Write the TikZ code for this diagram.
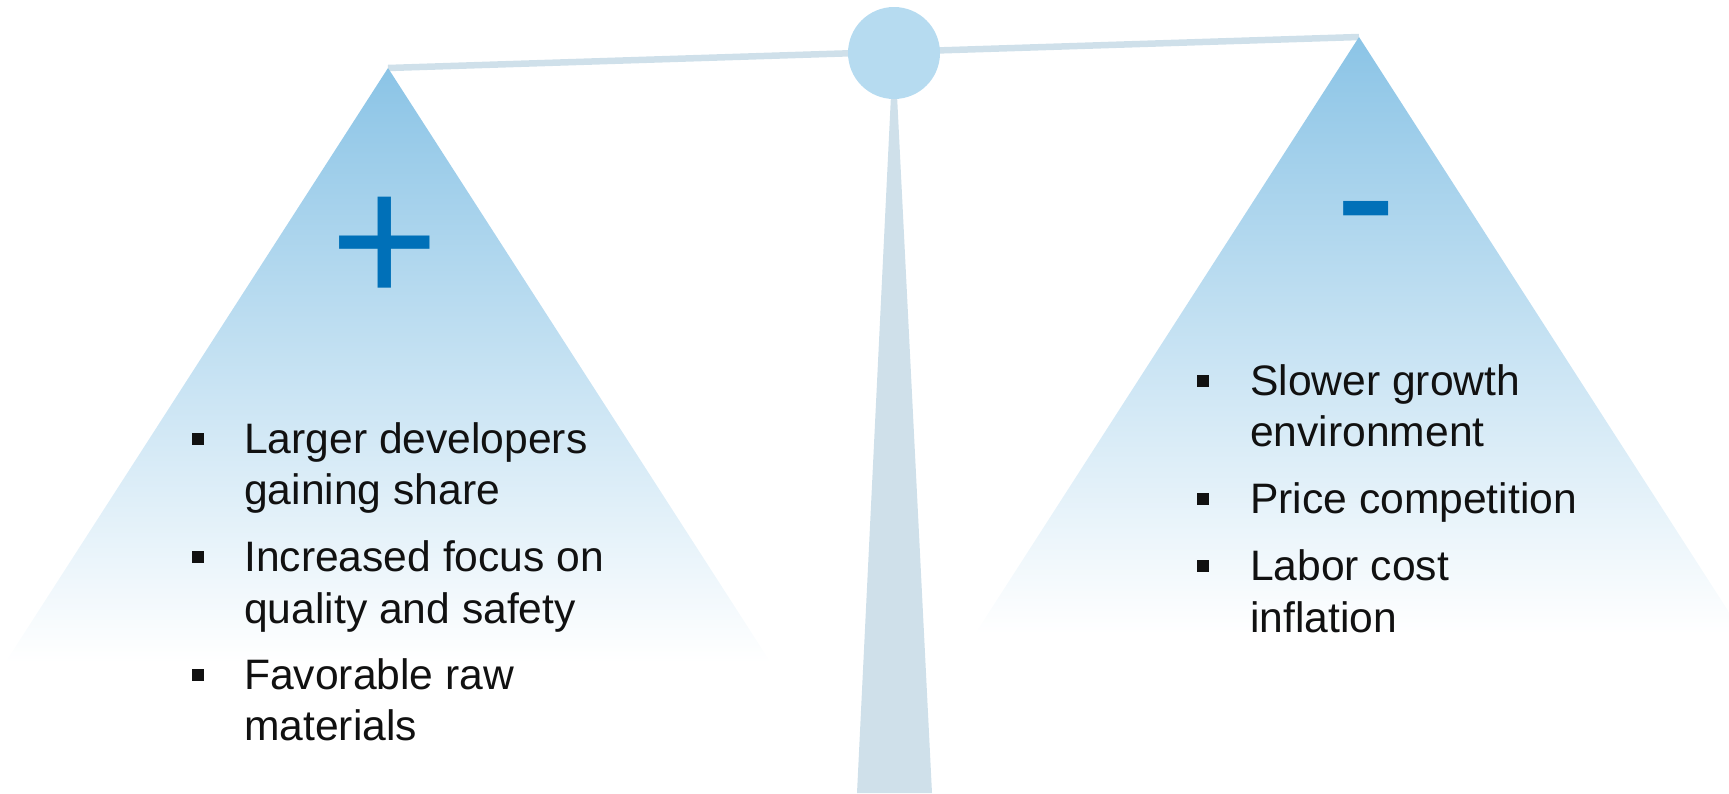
\documentclass[tikz,border=0pt]{standalone}
\usepackage{fontspec}
\setmainfont{Liberation Sans}
\definecolor{tritop}{RGB}{139,196,230}
\definecolor{knob}{RGB}{182,219,240}
\definecolor{beamc}{RGB}{207,224,234}
\definecolor{signc}{RGB}{0,112,184}
\definecolor{txt}{RGB}{17,17,17}
\tikzset{
  pan/.style={top color=tritop, bottom color=white, draw=none},
  txtline/.style={anchor=base west, inner sep=0pt, text=txt, font=\fontsize{42.6}{50}\selectfont},
  bul/.style={fill=txt, minimum size=12pt, inner sep=0pt, draw=none},
  sign/.style={inner sep=0pt, text=signc},
}
\begin{document}
\begin{tikzpicture}[x=1pt,y=-1pt]
\useasboundingbox (0,0) rectangle (1729,793);
\clip (0,0) rectangle (1729,793);
% post
\fill[beamc] (891,95) -- (897,95) -- (932,793) -- (857,793) -- cycle;
% beam
\coordinate (lapex) at (388,68);
\coordinate (rapex) at (1359,37);
\draw[beamc, line width=6.5pt] (lapex) -- (rapex);
% pans
\shade[pan] (lapex) -- (5,663) -- (771,663) -- cycle;
\shade[pan] (rapex) -- (975,634) -- (1743,634) -- cycle;
% knob
\fill[knob] (894,53) circle (46);
% signs
\node[sign, anchor=base, font=\fontsize{186}{186}\selectfont] (plus) at (385,304) {+};
\node[sign, anchor=base, font=\fontsize{184}{184}\selectfont] (minus) at (1366,257) {-};
% left text
\node[bul] (lb1) at (198,438.5) {};
\node[txtline] (l1) at (244,453) {Larger developers};
\node[txtline] (l2) at (244,504) {gaining share};
\node[bul] (lb2) at (198,556.5) {};
\node[txtline] (l3) at (244,571) {Increased focus on};
\node[txtline] (l4) at (244,623) {quality and safety};
\node[bul] (lb3) at (198,674.5) {};
\node[txtline] (l5) at (244,689) {Favorable raw};
\node[txtline] (l6) at (244,740) {materials};
% right text
\node[bul] (rb1) at (1202.5,380.5) {};
\node[txtline] (r1) at (1250,395) {Slower growth};
\node[txtline] (r2) at (1250,446) {environment};
\node[bul] (rb2) at (1202.5,498.5) {};
\node[txtline] (r3) at (1250,513) {Price competition};
\node[bul] (rb3) at (1202.5,565.5) {};
\node[txtline] (r4) at (1250,580) {Labor cost};
\node[txtline] (r5) at (1250,632) {inflation};
\end{tikzpicture}
\end{document}
